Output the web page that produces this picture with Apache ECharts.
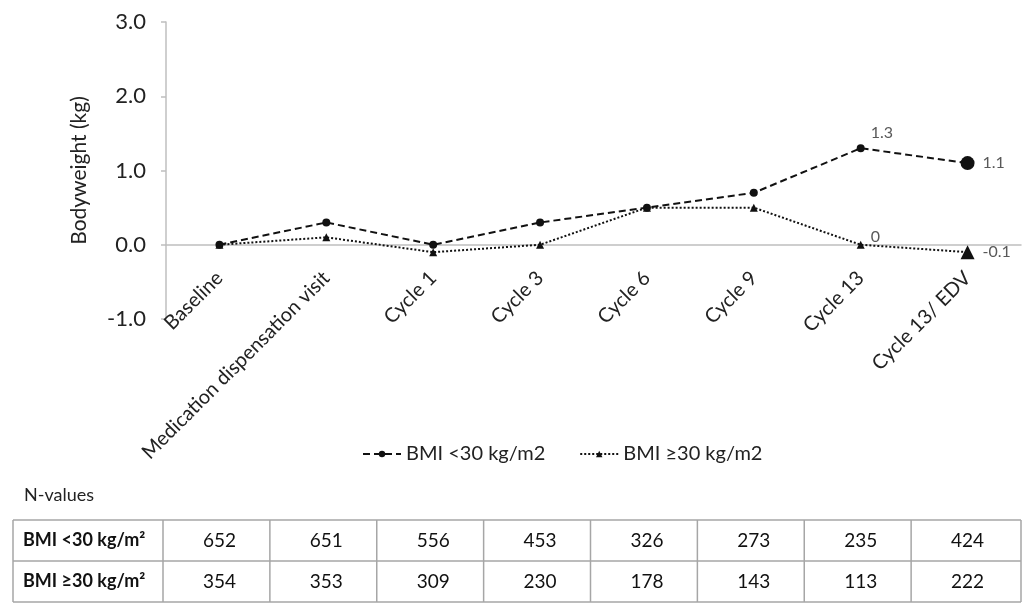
<!DOCTYPE html>
<html>
<head>
<meta charset="utf-8">
<script src="https://cdn.jsdelivr.net/npm/echarts@6/dist/echarts.min.js"></script>
<style>
html,body{margin:0;padding:0;background:#fff;}
#c{width:1022px;height:603px;}
</style>
</head>
<body>
<div id="c"></div>
<script>
var categories = ['Baseline','Medication dispensation visit','Cycle 1','Cycle 3','Cycle 6','Cycle 9','Cycle 13','Cycle 13/ EDV'];
var bmiLow = [0, 0.3, 0, 0.3, 0.5, 0.7, 1.3, 1.1];
var bmiHigh = [0, 0.1, -0.1, 0, 0.5, 0.5, 0, -0.1];
var labelIdxLow = [6, 7];
var labelIdxHigh = [6, 7];
var yTicks = [-1, 0, 1, 2, 3];
var nLow = [652, 651, 556, 453, 326, 273, 235, 424];
var nHigh = [354, 353, 309, 230, 178, 143, 113, 222];
var rowNames = ['BMI <30 kg/m²', 'BMI ≥30 kg/m²'];
var seriesNames = ['BMI <30 kg/m2', 'BMI ≥30 kg/m2'];

var FONT = 'Lato';
var last = categories.length - 1;

function buildData(vals, idxs, offs) {
  return vals.map(function (v, i) {
    var k = idxs.indexOf(i);
    if (k < 0) return v;
    return {
      value: v,
      label: { show: true, position: 'right', offset: offs[k], distance: 8,
        color: '#595959', fontSize: 16, fontFamily: FONT }
    };
  });
}

var chart = echarts.init(document.getElementById('c'));
var option = {
  animation: false,
  textStyle: { fontFamily: FONT },
  grid: { left: 166, right: 1, top: 22, height: 297 },
  legend: {
    top: 439, left: 357,
    itemWidth: 38, itemHeight: 8, itemGap: 34,
    textStyle: { fontSize: 20, color: '#222', fontFamily: FONT },
    data: seriesNames
  },
  xAxis: {
    type: 'category', data: categories, boundaryGap: true,
    offset: 0,
    axisLine: { onZero: false, lineStyle: { color: '#bfbfbf', width: 1.5 } },
    axisTick: { alignWithLabel: true, length: 5, lineStyle: { color: '#bfbfbf', width: 1.5 } },
    axisLabel: { rotate: 45, margin: 30, fontSize: 20, color: '#222', fontFamily: FONT, interval: 0 }
  },
  yAxis: {
    type: 'value', min: yTicks[0], max: yTicks[yTicks.length - 1], interval: 1,
    name: 'Bodyweight (kg)', nameLocation: 'middle', nameGap: 76, nameRotate: 90,
    nameTextStyle: { fontSize: 21, color: '#222', fontFamily: FONT },
    axisLine: { show: true, lineStyle: { color: '#bfbfbf', width: 1.5 } },
    axisTick: { show: true, length: 5, lineStyle: { color: '#bfbfbf', width: 1.5 } },
    splitLine: { show: false },
    axisLabel: { fontSize: 22, color: '#222', margin: 20, fontFamily: FONT,
      formatter: function (v) { return v.toFixed(1); } }
  },
  series: [
    {
      name: seriesNames[0], type: 'line',
      data: buildData(bmiLow, labelIdxLow, [[-2, -15], [0, 0]]),
      symbol: 'circle',
      symbolSize: function (v, p) { return p.dataIndex === last ? 14 : 8; },
      lineStyle: { color: '#111', width: 2, type: [7, 4] },
      itemStyle: { color: '#111' }
    },
    {
      name: seriesNames[1], type: 'line',
      data: buildData(bmiHigh, labelIdxHigh, [[-2, -8], [0, 0]]),
      symbol: 'triangle',
      symbolSize: function (v, p) { return p.dataIndex === last ? 14 : 8; },
      lineStyle: { color: '#111', width: 2, type: [2, 2] },
      itemStyle: { color: '#111' }
    }
  ]
};
chart.setOption(option);

// move the category axis (line, ticks, labels) up to the zero line
var yZero = chart.convertToPixel({ yAxisIndex: 0 }, 0);
var yMin = chart.convertToPixel({ yAxisIndex: 0 }, yTicks[0]);
chart.setOption({ xAxis: { offset: yZero - yMin } });

// N-values table aligned with category bands
var c0 = chart.convertToPixel({ xAxisIndex: 0 }, categories[0]);
var c1 = chart.convertToPixel({ xAxisIndex: 0 }, categories[1]);
var bw = c1 - c0;
var tableLeft = 13, tableTop = 520, rowH = 41;
var tableRight = c0 + bw * (categories.length - 0.5);
var rows = [nLow, nHigh];
var els = [];
els.push({ type: 'text', left: 24, top: 486,
  style: { text: 'N-values', fontSize: 18, fill: '#222', fontFamily: FONT } });
var lineStyle = { stroke: '#a6a6a6', lineWidth: 1.5 };
for (var r = 0; r <= rows.length; r++) {
  var y = tableTop + r * rowH;
  els.push({ type: 'line', shape: { x1: tableLeft, y1: y, x2: tableRight, y2: y }, style: lineStyle });
}
var xs = [tableLeft];
for (var i = 0; i <= categories.length; i++) {
  xs.push(c0 - bw / 2 + i * bw - (i === categories.length ? 0 : 3));
}
xs.forEach(function (x) {
  els.push({ type: 'line', shape: { x1: x, y1: tableTop, x2: x, y2: tableTop + rows.length * rowH }, style: lineStyle });
});
rows.forEach(function (row, r) {
  var cy = tableTop + r * rowH + rowH / 2;
  els.push({ type: 'text', x: tableLeft + 10, y: cy,
    style: { text: rowNames[r], fontSize: 18, fontWeight: 'bold', fill: '#111', fontFamily: FONT, verticalAlign: 'middle', align: 'left' } });
  row.forEach(function (v, i) {
    var cx = chart.convertToPixel({ xAxisIndex: 0 }, categories[i]);
    els.push({ type: 'text', x: cx, y: cy,
      style: { text: String(v), fontSize: 19, fill: '#111', fontFamily: FONT, verticalAlign: 'middle', align: 'center' } });
  });
});
chart.setOption({ graphic: els });
</script>
</body>
</html>
